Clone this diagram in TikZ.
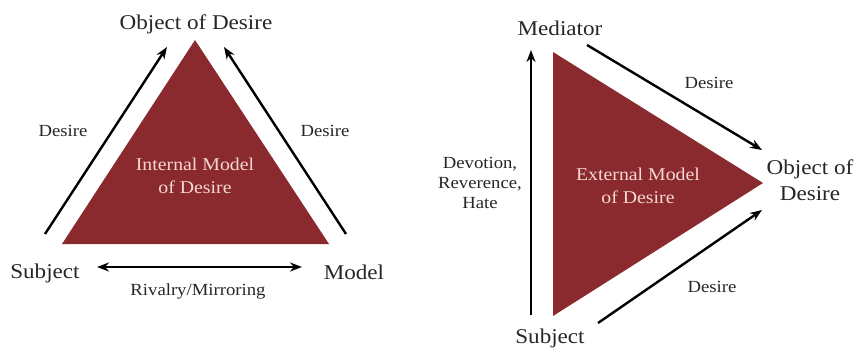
\documentclass[tikz,border=0pt]{standalone}
\usepackage{fontspec}
\setmainfont[FakeStretch=1.1]{Liberation Serif}
\usetikzlibrary{arrows.meta}
\definecolor{tri}{HTML}{8B2A2E}
\definecolor{tritext}{HTML}{F6D8D2}
\tikzset{
  big/.style={inner sep=0pt, font=\fontsize{21}{23}\selectfont, text=black!85},
  small/.style={inner sep=0pt, font=\fontsize{17}{20}\selectfont, text=black!85, align=center},
  intext/.style={inner sep=0pt, font=\fontsize{18}{23}\selectfont, text=tritext, align=center},
  arr/.style={line width=2.4pt, -{Stealth[length=12pt,width=9pt]}},
  darr/.style={line width=2.4pt, {Stealth[length=12pt,width=9pt]}-{Stealth[length=12pt,width=9pt]}},
  trifill/.style={fill=tri, draw=none}
}
\begin{document}
\begin{tikzpicture}[x=1pt,y=-1pt]
\useasboundingbox (0,0) rectangle (854,350);
% ---------- left diagram ----------
\fill[trifill] (195,40) -- (329,244) -- (62,244) -- cycle;
\node[intext] (intl) at (195,176) {Internal Model\\of Desire};
\node[big] (obj1) at (196,24) {Object of Desire};
\node[big] (subj1) at (45,273) {Subject};
\node[big] (model) at (354,272) {Model};
\node[small] (d1) at (63,131) {Desire};
\node[small] (d2) at (325,131) {Desire};
\node[small] (riv) at (198,291) {Rivalry/Mirroring};
\coordinate (a1s) at (45,234);
\coordinate (a1e) at (167,47);
\coordinate (a2s) at (346,234);
\coordinate (a2e) at (224,47);
\coordinate (a3s) at (97,267);
\coordinate (a3e) at (302,267);
\draw[arr] (a1s) -- (a1e);
\draw[arr] (a2s) -- (a2e);
\draw[darr] (a3s) -- (a3e);
% ---------- right diagram ----------
\fill[trifill] (553,52) -- (763,183) -- (553,316) -- cycle;
\node[intext] (extl) at (638,186) {External Model\\of Desire};
\node[big] (med) at (560,28) {Mediator};
\node[big] (subj2) at (550,338) {Subject};
\node[big, align=center, font=\fontsize{21}{26}\selectfont] (obj2) at (810,180) {Object of\\Desire};
\node[small] (d3) at (709,83) {Desire};
\node[small] (d4) at (712,287) {Desire};
\node[small] (dev) at (480,183) {Devotion,\\Reverence,\\Hate};
\coordinate (b1s) at (531,315);
\coordinate (b1e) at (531,50);
\coordinate (b2s) at (587,45);
\coordinate (b2e) at (762,150);
\coordinate (b3s) at (598,323);
\coordinate (b3e) at (762,210);
\draw[arr] (b1s) -- (b1e);
\draw[arr] (b2s) -- (b2e);
\draw[arr] (b3s) -- (b3e);
\end{tikzpicture}
\end{document}
